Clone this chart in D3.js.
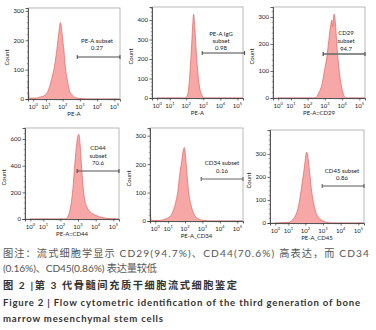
<!DOCTYPE html>
<html><head><meta charset="utf-8">
<script src="https://cdn.jsdelivr.net/npm/d3@7"></script>
<style>
html,body{margin:0;padding:0;background:#fff;}
svg{display:block;}
text{font-family:Lato,"Liberation Sans","Noto Sans CJK SC",sans-serif;}
</style></head>
<body>
<script>
// ---------- DATA ----------
const panelTitles = ["PE-A", "PE-A", "PE-A::CD29", "PE-A::CD44", "PE-A_CD34", "PE-A_CD45"];
const gateLabels = [["PE-A subset", "0.27"], ["PE-A IgG", "subset", "0.98"], ["CD29", "subset", "94.7"],
                    ["CD44", "subset", "70.6"], ["CD34 subset", "0.16"], ["CD45 subset", "0.86"]];
const gateFrom = [705, 860, 800, 900, 850, 900];
const gateTo = [210000, 260000, 210000, 210000, 210000, 210000];
const xTickValues = [1, 10, 100, 1000, 10000, 100000];
const xTickExponents = ["0", "1", "2", "3", "4", "5"];
const yMax = [310, 467, 337, 683, 327, 404];
const yTickStep = [100, 100, 100, 200, 100, 100];
const yTickTop = [300, 400, 300, 600, 300, 300];

const p1X = [0, 0.2, 2, 4.3, 9.3, 14.3, 21.7, 32.8, 42.8, 56.4, 73.5, 84.6, 96.5, 118, 143, 188, 244, 361, 619, 1365, 3000, 200000];
const p1Y = [58, 3, 3, 7, 14, 31, 65, 110, 155, 212, 260, 245, 212, 167, 110, 65, 30, 13, 4, 1, 0, 0];
const p2X = [1, 88, 127, 158, 200, 236, 270, 307, 372, 464, 601, 828, 1130, 200000];
const p2Y = [0, 0, 25, 108, 246, 364, 430, 385, 262, 144, 57, 15, 0, 0];
const p3X = [1, 271, 436, 705, 960, 1310, 1700, 2100, 2540, 2890, 3430, 4070, 4870, 6070, 7930, 10800, 16600, 200000];
const p3Y = [0, 0, 18, 55, 104, 152, 215, 263, 289, 263, 311, 278, 204, 130, 67, 22, 0, 0];
const p4X = [1, 192, 295, 398, 517, 631, 795, 990, 1120, 1325, 1570, 1900, 2320, 3170, 4820, 9330, 22000, 64000, 200000];
const p4Y = [0, 0, 30, 105, 230, 380, 530, 625, 635, 555, 405, 255, 155, 92, 55, 30, 12, 3, 0];
const p5X = [0, 0.2, 2, 8.6, 17.5, 27.5, 37.9, 49, 64, 77, 92, 109, 131, 161, 222, 313, 527, 1160, 3000, 200000];
const p5Y = [35, 2, 2, 9, 27, 62, 103, 162, 209, 244, 258, 221, 162, 103, 56, 27, 9, 2, 0, 0];
const p6X = [1, 10.6, 21, 33, 45, 59, 76, 96, 113, 129, 146, 173, 216, 295, 415, 700, 1330, 3000, 200000];
const p6Y = [0, 3, 20, 49, 93, 151, 209, 267, 307, 303, 274, 223, 151, 86, 42, 17, 5, 0, 0];
const seriesX = [p1X, p2X, p3X, p4X, p5X, p6X];
const seriesY = [p1Y, p2Y, p3Y, p4Y, p5Y, p6Y];

const captionLines = [
  "图注：流式细胞学显示 CD29(94.7%)、CD44(70.6%) 高表达，而 CD34",
  "(0.16%)、CD45(0.86%) 表达量较低",
  "图 2 |第 3 代骨髓间充质干细胞流式细胞鉴定",
  "Figure 2  |  Flow cytometric identification of the third generation of bone",
  "marrow mesenchymal stem cells"
];

// ---------- LAYOUT ----------
const layout = [
  {x0: 28, x1: 120, y0: 8, y1: 99, gateY: 57, labelY: [41, 48], cx: 97},
  {x0: 152, x1: 243, y0: 7, y1: 98, gateY: 53, labelY: [34, 41, 48], cx: 221},
  {x0: 273, x1: 365, y0: 7, y1: 98, gateY: 54, labelY: [33, 41, 49], cx: 346},
  {x0: 25, x1: 119, y0: 128, y1: 219, gateY: 171, labelY: [148, 156, 163], cx: 98},
  {x0: 150, x1: 243, y0: 128, y1: 221, gateY: 179, labelY: [163, 171], cx: 222},
  {x0: 270, x1: 364, y0: 130, y1: 223, gateY: 186, labelY: [171, 178], cx: 342}
];
const gateStyle = [
  {c: "#333", w: 0.9}, {c: "#333", w: 0.9}, {c: "#666", w: 1.4},
  {c: "#555", w: 1.2}, {c: "#666", w: 1.1}, {c: "#444", w: 0.9}
];
const captionLayout = [
  {y: 257, len: 366, size: 10.2, weight: 400, color: "#555"},
  {y: 272, len: 154, size: 10.2, weight: 400, color: "#555"},
  {y: 289, len: 234, size: 10.2, weight: 700, color: "#333"},
  {y: 306, len: 357, size: 9.6, weight: 700, color: "#333"},
  {y: 322, len: 160, size: 9.6, weight: 700, color: "#333"}
];

const svg = d3.select("body").append("svg").attr("width", 376).attr("height", 330);

layout.forEach((L, i) => {
  const g = svg.append("g");
  const x = d3.scaleSymlog().constant(1).domain([0, 210000]).range([L.x0, L.x1]);
  const y = d3.scaleLinear().domain([0, yMax[i]]).range([L.y1, L.y0]);

  g.append("rect").attr("x", L.x0).attr("y", L.y0).attr("width", L.x1 - L.x0).attr("height", L.y1 - L.y0)
    .attr("fill", "none").attr("stroke", "#9a9a9a").attr("stroke-width", 0.7);

  const pts = seriesX[i].map((v, k) => [v, seriesY[i][k]]);
  const area = d3.area().x(d => x(d[0])).y0(y(0)).y1(d => y(d[1])).curve(d3.curveMonotoneX);
  const line = d3.line().x(d => x(d[0])).y(d => y(d[1])).curve(d3.curveMonotoneX);
  g.append("path").attr("d", area(pts)).attr("fill", "#f7a7a5");
  g.append("path").attr("d", line(pts)).attr("fill", "none").attr("stroke", "#e2625f").attr("stroke-width", 0.7);

  const yMajor = d3.range(0, yTickTop[i] + 1, yTickStep[i]);
  const yMinor = d3.range(0, yMax[i], yTickStep[i] / 5).filter(v => yMajor.indexOf(v) < 0);
  const yAx = g.append("g").attr("transform", `translate(${L.x0},0)`)
    .call(d3.axisLeft(y).tickValues(yMajor).tickSize(2.5).tickPadding(1.5).tickFormat(d3.format("d")));
  yAx.select(".domain").attr("stroke", "#333").attr("stroke-width", 0.8);
  yAx.selectAll(".tick line").attr("stroke", "#333").attr("stroke-width", 0.7);
  yAx.selectAll("text").attr("font-size", 6).attr("fill", "#222");
  g.append("g").selectAll("line").data(yMinor).join("line")
    .attr("x1", L.x0 - 1.3).attr("x2", L.x0).attr("y1", d => y(d)).attr("y2", d => y(d))
    .attr("stroke", "#555").attr("stroke-width", 0.5);

  const xAx = g.append("g").attr("transform", `translate(0,${L.y1})`)
    .call(d3.axisBottom(x).tickValues(xTickValues).tickSize(2.5).tickPadding(2).tickFormat(""));
  xAx.select(".domain").attr("stroke", "#333").attr("stroke-width", 0.8);
  xAx.selectAll(".tick line").attr("stroke", "#333").attr("stroke-width", 0.7);
  const xMinor = [];
  for (let k = 0; k < 5; k++) for (let m = 2; m <= 9; m++) xMinor.push(m * Math.pow(10, k));
  xMinor.push(200000);
  g.append("g").selectAll("line").data(xMinor.filter(v => v <= 210000)).join("line")
    .attr("x1", d => x(d)).attr("x2", d => x(d)).attr("y1", L.y1).attr("y2", L.y1 + 1.3)
    .attr("stroke", "#555").attr("stroke-width", 0.45);
  const tl = g.append("g").selectAll("text").data(xTickValues).join("text")
    .attr("x", d => x(d)).attr("y", L.y1 + 9.5).attr("text-anchor", "middle")
    .attr("font-size", 6).attr("fill", "#222");
  tl.append("tspan").text("10");
  tl.append("tspan").attr("dy", -2.2).attr("font-size", 4).text((d, k) => xTickExponents[k]);

  g.append("text").attr("x", (L.x0 + L.x1) / 2).attr("y", L.y1 + 17).attr("text-anchor", "middle")
    .attr("font-size", 6).attr("fill", "#222").text(panelTitles[i]);
  g.append("text").attr("transform", `translate(${L.x0 - 19.5},${(L.y0 + L.y1) / 2 + 4}) rotate(-90)`)
    .attr("text-anchor", "middle").attr("font-size", 6).attr("fill", "#222").text("Count");

  const gy = L.gateY;
  const gx0 = x(gateFrom[i]), gx1 = x(gateTo[i]);
  const S = gateStyle[i];
  g.append("line").attr("x1", gx0).attr("x2", gx1).attr("y1", gy).attr("y2", gy)
    .attr("stroke", S.c).attr("stroke-width", S.w);
  [gx0, gx1].forEach(px => g.append("line").attr("x1", px).attr("x2", px).attr("y1", gy - 2).attr("y2", gy + 2)
    .attr("stroke", S.c).attr("stroke-width", S.w));
  gateLabels[i].forEach((t, k) => {
    g.append("text").attr("x", L.cx).attr("y", L.labelY[k] + 2).attr("text-anchor", "middle")
      .attr("font-size", 6).attr("fill", "#222").text(t);
  });
});

captionLines.forEach((t, k) => {
  const C = captionLayout[k];
  svg.append("text").attr("x", 3).attr("y", C.y)
    .attr("font-size", C.size).attr("font-weight", C.weight).attr("fill", C.color)
    .attr("textLength", C.len).attr("lengthAdjust", "spacing")
    .style("font-family", "Lato, 'Noto Sans CJK SC', sans-serif")
    .text(t);
});
</script>
</body></html>
